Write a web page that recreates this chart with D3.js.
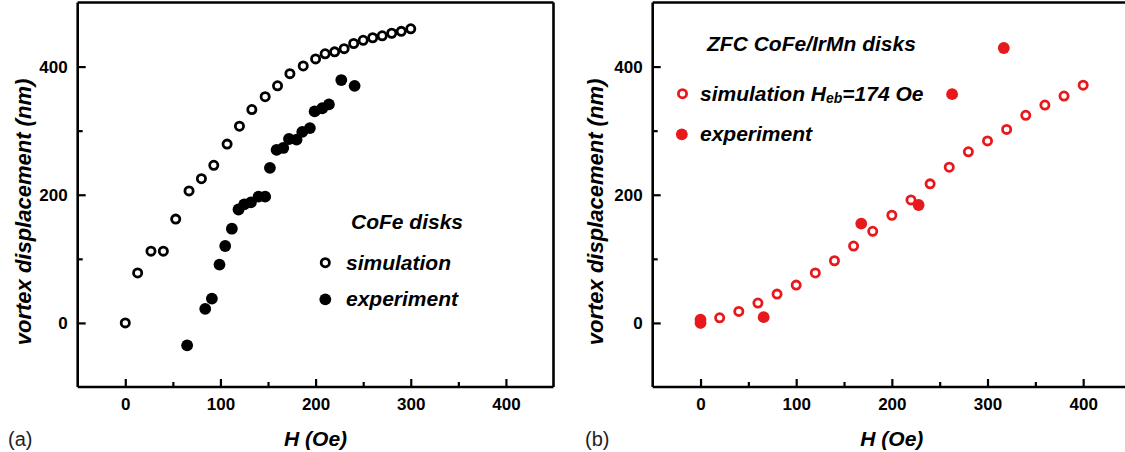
<!DOCTYPE html>
<html>
<head>
<meta charset="utf-8">
<script src="https://cdn.jsdelivr.net/npm/d3@7"></script>
<style>
  body { margin: 0; background: #fff; }
  svg { display: block; }
  text { font-family: "Liberation Sans", Arial, sans-serif; }
</style>
</head>
<body>
<div id="chart"></div>
<script>
// panel (a): CoFe disks
var leftSimH = [0, 13, 27, 40, 53, 67, 80, 93, 107, 120, 133, 147, 160, 173, 187, 200, 210, 220, 230, 240, 250, 260, 270, 280, 290, 300];
var leftSimD = [0, 78, 112, 112, 162, 206, 225, 246, 279, 307, 333, 353, 370, 389, 401, 412, 420, 423, 428, 436, 441, 445, 448, 452, 455, 459];
var leftExpH = [65, 84, 91, 99, 105, 112, 119, 125, 132, 140, 147, 152, 159, 166, 172, 180, 186, 194, 199, 207, 214, 227, 241];
var leftExpD = [-35, 22, 38, 91, 120, 147, 177, 185, 188, 197, 197, 242, 270, 273, 287, 286, 298, 304, 330, 335, 341, 379, 370];

// panel (b): ZFC CoFe/IrMn disks
var rightSimH = [0, 20, 40, 60, 80, 100, 120, 140, 160, 180, 200, 220, 240, 260, 280, 300, 320, 340, 360, 380, 400];
var rightSimD = [0, 8, 18, 31, 45, 59, 78, 97, 120, 143, 168, 192, 217, 243, 267, 284, 302, 324, 340, 354, 371];
var rightExpH = [0, 0, 66, 168, 228, 263, 317];
var rightExpD = [0, 5, 9, 155, 184, 357, 429];

var xMajor = [0, 100, 200, 300, 400];
var xMinor = [50, 150, 250, 350];
var yMajor = [0, 200, 400];
var yMinor = [100, 300];

var width = 1125, height = 452;
var red = "#e8191c";

var svg = d3.select("#chart").append("svg")
  .attr("width", width)
  .attr("height", height);

function zip(a, b) { return a.map(function(v, i) { return [v, b[i]]; }); }

function drawPanel(p) {
  var x = d3.scaleLinear().domain([-50, 450]).range([p.left, p.right]);
  var y = d3.scaleLinear().domain([-100, 500]).range([387, 2.5]);
  var g = svg.append("g");

  // ticks (inside)
  g.append("g").attr("transform", "translate(0,387)")
    .call(d3.axisBottom(x).tickValues(xMajor).tickSize(-8).tickPadding(11));
  g.append("g").attr("transform", "translate(0,387)")
    .call(d3.axisBottom(x).tickValues(xMinor).tickSize(-5).tickFormat(""));
  g.append("g").attr("transform", "translate(" + p.left + ",0)")
    .call(d3.axisLeft(y).tickValues(yMajor).tickSize(-8).tickPadding(10));
  g.append("g").attr("transform", "translate(" + p.left + ",0)")
    .call(d3.axisLeft(y).tickValues(yMinor).tickSize(-5).tickFormat(""));

  g.selectAll(".domain").remove();
  g.selectAll(".tick line").attr("stroke", "#000").attr("stroke-width", 2.2);
  g.selectAll(".tick text")
    .attr("fill", "#000")
    .style("font-size", "17px")
    .style("font-weight", "bold");

  // frame
  var frameRight = p.frameRight;
  var frame = g.append("g").attr("stroke", "#000").attr("stroke-width", 2.6).attr("fill", "none");
  frame.append("line").attr("x1", p.left).attr("x2", p.left).attr("y1", 2.5).attr("y2", 387);
  frame.append("line").attr("x1", p.left).attr("x2", frameRight).attr("y1", 387).attr("y2", 387);
  frame.append("line").attr("x1", p.left).attr("x2", frameRight).attr("y1", 2.5).attr("y2", 2.5);
  if (p.closed) {
    frame.append("line").attr("x1", frameRight).attr("x2", frameRight).attr("y1", 2.5).attr("y2", 387);
  }

  // simulation: open circles
  g.append("g").selectAll("circle")
    .data(zip(p.simH, p.simD)).join("circle")
    .attr("cx", function(d) { return x(d[0]); })
    .attr("cy", function(d) { return y(d[1]); })
    .attr("r", 4.1)
    .attr("fill", "#fff")
    .attr("stroke", p.color)
    .attr("stroke-width", 2.8);

  // experiment: filled circles
  g.append("g").selectAll("circle")
    .data(zip(p.expH, p.expD)).join("circle")
    .attr("cx", function(d) { return x(d[0]); })
    .attr("cy", function(d) { return y(d[1]); })
    .attr("r", 5.9)
    .attr("fill", p.color);

  // axis titles
  g.append("text")
    .attr("x", (p.left + p.labelRight) / 2).attr("y", 446)
    .attr("text-anchor", "middle")
    .style("font-size", "21px").style("font-weight", "bold").style("font-style", "italic")
    .attr("fill", "#000")
    .text("H (Oe)");
  g.append("text")
    .attr("transform", "translate(" + p.yLabelX + ",212) rotate(-90)")
    .attr("text-anchor", "middle")
    .style("font-size", "22px").style("font-weight", "bold").style("font-style", "italic")
    .attr("fill", "#000")
    .text("vortex displacement (nm)");
  g.append("text")
    .attr("x", p.tagX).attr("y", 446)
    .style("font-size", "20px")
    .attr("fill", "#222")
    .text(p.tag);

  return g;
}

var ga = drawPanel({
  left: 77.7, right: 553.5, frameRight: 553.5, closed: true, labelRight: 553.5,
  simH: leftSimH, simD: leftSimD, expH: leftExpH, expD: leftExpD,
  color: "#000", yLabelX: 31, tagX: 8, tag: "(a)"
});

var gb = drawPanel({
  left: 652.7, right: 1131, frameRight: 1130, closed: false, labelRight: 1131,
  simH: rightSimH, simD: rightSimD, expH: rightExpH, expD: rightExpD,
  color: red, yLabelX: 603, tagX: 585, tag: "(b)"
});

// legends
function legendText(g, x, y, str) {
  return g.append("text").attr("x", x).attr("y", y)
    .style("font-size", "21px").style("font-weight", "bold").style("font-style", "italic")
    .attr("fill", "#000").text(str);
}

legendText(ga, 351, 229, "CoFe disks");
ga.append("circle").attr("cx", 325.3).attr("cy", 262.7).attr("r", 4.1)
  .attr("fill", "#fff").attr("stroke", "#000").attr("stroke-width", 2.8);
legendText(ga, 346, 270, "simulation");
ga.append("circle").attr("cx", 325.3).attr("cy", 299.3).attr("r", 5.9).attr("fill", "#000");
legendText(ga, 346, 306, "experiment");

legendText(gb, 707, 51, "ZFC CoFe/IrMn disks");
gb.append("circle").attr("cx", 682.5).attr("cy", 93.7).attr("r", 4.1)
  .attr("fill", "#fff").attr("stroke", red).attr("stroke-width", 2.8);
var simLabel = legendText(gb, 700, 101, "simulation H");
simLabel.append("tspan").attr("dy", 2).style("font-size", "14px").text("eb");
simLabel.append("tspan").attr("dy", -2).text("=174 Oe");
gb.append("circle").attr("cx", 681.8).attr("cy", 134.3).attr("r", 5.9).attr("fill", red);
legendText(gb, 700, 141, "experiment");
</script>
</body>
</html>
